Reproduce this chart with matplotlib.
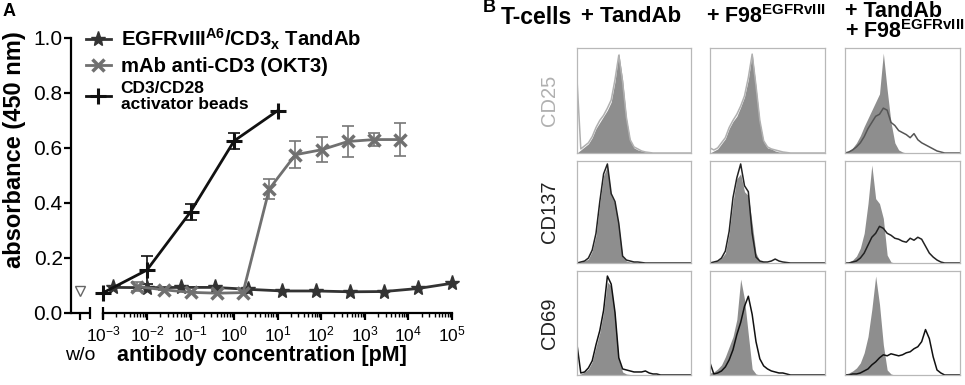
import matplotlib
matplotlib.use('Agg')
from matplotlib import pyplot as plt
from matplotlib.transforms import blended_transform_factory

plt.rcParams['font.family'] = ['Liberation Sans', 'DejaVu Sans']
plt.rcParams['mathtext.fontset'] = 'custom'
plt.rcParams['mathtext.rm'] = 'Liberation Sans'
plt.rcParams['mathtext.it'] = 'Liberation Sans:italic'
plt.rcParams['mathtext.bf'] = 'Liberation Sans:bold'

# ---- panel A data (antibody concentration in pM, absorbance at 450 nm)
tandab_conc = [0.00165, 0.0099, 0.0595, 0.357, 2.14, 12.9, 77, 463, 2778, 16667, 1e5]
tandab_abs = [0.093, 0.092, 0.093, 0.093, 0.086, 0.080, 0.080, 0.077, 0.078, 0.089, 0.108]

okt3_conc = [0.006, 0.025, 0.1, 0.4, 1.6, 6.4, 25.6, 102, 410, 1640, 6550]
okt3_abs = [0.096, 0.084, 0.075, 0.072, 0.074, 0.450, 0.575, 0.593, 0.623, 0.630, 0.630]
okt3_err = [0.015, 0.0, 0.0, 0.0, 0.0, 0.037, 0.050, 0.045, 0.055, 0.025, 0.060]

beads_conc = [1e-3, 1e-2, 1e-1, 1, 10]
beads_abs = [0.074, 0.156, 0.367, 0.625, 0.735]
beads_err = [0.0, 0.05, 0.03, 0.03, 0.0]

wo_pos = 10 ** -3.535   # position of the "w/o" (no antibody) control
wo_abs = [0.08]

xtick_vals = [1e-3, 1e-2, 1e-1, 1, 10, 100, 1e3, 1e4, 1e5]
xtick_labels = ['$10^{-3}$', '$10^{-2}$', '$10^{-1}$', '$10^{0}$', '$10^{1}$',
                '$10^{2}$', '$10^{3}$', '$10^{4}$', '$10^{5}$']

# ---- panel B data: flow cytometry histograms on a 31-bin normalised scale
bins = [k / 30 for k in range(31)]
col_titles = ['+ TandAb', r'+ F98$^{\mathbf{EGFRvIII}}$',
              '+ TandAb\n' + r'+ F98$^{\mathbf{EGFRvIII}}$']
row_labels = ['CD25', 'CD137', 'CD69']
row_colors = ['#b0b0b0', '#222222', '#222222']

cd25_ctrl = [
    [0, .03, .06, .09, .15, .24, .30, .36, .42, .50, .70, .98, .72, .34, .12, .05, .03, .02, .01, .005, 0, 0, 0, 0, 0, 0, 0, 0, 0, 0, 0],
    [0, .02, .04, .09, .14, .24, .31, .36, .45, .55, .72, .98, .65, .30, .11, .05, .04, .02, .01, .01, .005, 0, 0, 0, 0, 0, 0, 0, 0, 0, 0],
    [0, .02, .05, .10, .17, .26, .34, .42, .50, .58, .98, .62, .30, .10, .03, .01, 0, 0, 0, 0, 0, 0, 0, 0, 0, 0, 0, 0, 0, 0, 0],
]
cd25_stim = [
    [.72, .04, .07, .10, .16, .25, .32, .37, .44, .52, .72, .96, .70, .35, .13, .06, .04, .02, .01, .005, 0, 0, 0, 0, 0, 0, 0, 0, 0, 0, 0],
    [.05, .03, .05, .10, .15, .25, .32, .38, .46, .56, .74, .97, .66, .32, .12, .06, .04, .03, .02, .01, .005, 0, 0, 0, 0, 0, 0, 0, 0, 0, 0],
    [0, .01, .03, .06, .10, .16, .24, .30, .36, .38, .44, .42, .30, .27, .22, .20, .18, .15, .19, .13, .10, .08, .06, .04, .02, .01, 0, 0, 0, 0, 0],
]
cd137_ctrl = [
    [0, .01, .02, .04, .12, .28, .60, .88, .98, .68, .60, .38, .06, .02, .01, .01, .005, 0, 0, 0, 0, 0, 0, 0, 0, 0, 0, 0, 0, 0, 0],
    [0, .01, .02, .05, .10, .30, .62, .85, .90, .72, .68, .40, .10, .02, .01, 0, 0, 0, 0, 0, 0, 0, 0, 0, 0, 0, 0, 0, 0, 0, 0],
    [0, .01, .03, .07, .15, .30, .60, .99, .65, .60, .45, .08, .01, 0, 0, 0, 0, 0, 0, 0, 0, 0, 0, 0, 0, 0, 0, 0, 0, 0, 0],
]
cd137_stim = [
    [0, .01, .02, .05, .13, .30, .62, .90, 1.0, .70, .62, .40, .07, .03, .02, .01, .01, .005, 0, 0, 0, 0, 0, 0, 0, 0, 0, 0, 0, 0, 0],
    [0, .01, .02, .05, .12, .32, .66, .86, 1.0, .78, .72, .30, .06, .02, .01, .01, .02, .04, .02, .01, .005, 0, 0, 0, 0, 0, 0, 0, 0, 0, 0],
    [0, 0, .01, .02, .05, .10, .18, .26, .30, .37, .35, .30, .28, .25, .24, .22, .21, .25, .23, .26, .24, .17, .10, .06, .03, .01, 0, 0, 0, 0, 0],
]
cd69_ctrl = [
    [0, .01, .03, .06, .13, .28, .42, .62, .92, .88, .60, .15, .03, .01, .005, 0, 0, 0, 0, 0, 0, 0, 0, 0, 0, 0, 0, 0, 0, 0, 0],
    [.02, .03, .06, .10, .18, .28, .38, .55, .95, .75, .40, .06, .01, 0, 0, 0, 0, 0, 0, 0, 0, 0, 0, 0, 0, 0, 0, 0, 0, 0, 0],
    [.01, .02, .04, .07, .12, .22, .38, .65, .98, .70, .30, .05, .01, 0, 0, 0, 0, 0, 0, 0, 0, 0, 0, 0, 0, 0, 0, 0, 0, 0, 0],
]
cd69_stim = [
    [.30, .02, .03, .07, .14, .30, .44, .64, .98, .90, .62, .17, .06, .05, .04, .03, .03, .03, .04, .02, .01, .01, 0, 0, 0, 0, 0, 0, 0, 0, 0],
    [.12, .01, .02, .04, .08, .15, .25, .40, .52, .68, .78, .60, .33, .16, .09, .06, .04, .03, .02, .02, .01, 0, 0, 0, 0, 0, 0, 0, 0, 0, 0],
    [0, 0, .01, .01, .02, .04, .06, .10, .13, .17, .20, .19, .21, .20, .19, .20, .22, .23, .26, .28, .33, .45, .36, .18, .05, .02, 0, 0, 0, 0, 0],
]
ctrl_rows = [cd25_ctrl, cd137_ctrl, cd69_ctrl]
stim_rows = [cd25_stim, cd137_stim, cd69_stim]

W, H = 965, 385
fig = plt.figure(figsize=(W / 100, H / 100), dpi=100)


def px_axes(x0, y0, x1, y1):
    return fig.add_axes([x0 / W, 1 - y1 / H, (x1 - x0) / W, (y1 - y0) / H])


# ================= panel A =================
ax = px_axes(71, 37.7, 452, 313)
ax.set_xscale('log')
ax.set_xlim(10 ** -3.742, 1e5)
ax.set_ylim(0, 1.0)

l1, = ax.plot(tandab_conc, tandab_abs, color='#333333', lw=2, marker='*', ms=11,
              clip_on=False, zorder=3, label=r'EGFRvIII$^{\mathbf{A6}}$/CD3$_{\mathbf{x}}$ TandAb')
ax.errorbar(okt3_conc, okt3_abs, yerr=okt3_err, fmt='none', ecolor='#777777',
            elinewidth=1.2, capsize=4, capthick=1.2, zorder=2)
l2, = ax.plot(okt3_conc, okt3_abs, color='#707070', lw=2, marker='x', ms=9, mew=2.5,
              clip_on=False, zorder=4, label='mAb anti-CD3 (OKT3)')
ax.errorbar(beads_conc, beads_abs, yerr=beads_err, fmt='none', ecolor='#111111',
            elinewidth=1.2, capsize=4, capthick=1.2, zorder=2)
l3, = ax.plot(beads_conc, beads_abs, color='#111111', lw=2, marker='+', ms=12, mew=2.2,
              clip_on=False, zorder=5, label='CD3/CD28\nactivator beads')
ax.plot([wo_pos], wo_abs, marker='v', ms=7, mfc='none', mec='#666666', mew=1,
        ls='none', clip_on=False)

for s in ['top', 'right']:
    ax.spines[s].set_visible(False)
for s in ['left', 'bottom']:
    ax.spines[s].set_linewidth(1.6)
ax.spines['bottom'].set_bounds(1e-3, 1e5)

# broken axis piece for the w/o control
bt = blended_transform_factory(ax.transData, ax.transAxes)
ax.plot([10 ** -3.742, 10 ** -3.305], [0, 0], color='black', lw=1.6,
        transform=bt, clip_on=False, solid_capstyle='butt')
ax.plot([10 ** -3.305, 1e-3], [0, 0], ls='none', marker='|', ms=9, mew=1.6,
        color='black', transform=bt, clip_on=False)

ax.set_xticks([wo_pos] + xtick_vals)
ax.set_xticklabels([''] + xtick_labels, fontsize=12.5)
ax.set_xticks([k * 10 ** e for e in range(-3, 5) for k in range(2, 10)], minor=True)
ax.tick_params(axis='x', which='major', length=5, width=1.6, pad=3)
ax.tick_params(axis='x', which='minor', length=3, width=1.0, labelbottom=False)
ax.set_yticks([0, 0.2, 0.4, 0.6, 0.8, 1.0])
ax.set_yticklabels(['0.0', '0.2', '0.4', '0.6', '0.8', '1.0'], fontsize=15)
ax.tick_params(axis='y', length=5, width=1.6, pad=1)

ax.text(wo_pos, -0.155, 'w/o', transform=bt, ha='center', va='center', fontsize=14)
ax.set_xlabel('antibody concentration [pM]', fontsize=15.5, fontweight='bold', labelpad=1)
ax.set_ylabel('absorbance (450 nm)', fontsize=17, fontweight='bold')
ax.yaxis.set_label_coords(-0.118, 0.592)

leg = ax.legend(handles=[l1, l2, l3], loc='upper left', bbox_to_anchor=(0.04, 1.04),
                frameon=False, prop={'weight': 'bold', 'size': 14.6},
                handlelength=1.2, handletextpad=0.5, labelspacing=0.25,
                borderpad=0, borderaxespad=0)
leg.get_texts()[2].set_fontsize(12.5)
leg.get_texts()[2].set_linespacing(1.1)

fig.text(9 / W, 1 - 12 / H, 'A', fontsize=13, fontweight='bold', ha='center', va='center')

# ================= panel B =================
col_x = [(577, 691), (710, 825), (845, 960)]
row_y = [(48, 153), (161, 263), (271, 375)]
stim_colors = [['#b0b0b0', '#b0b0b0', '#555555'],
               ['#222222', '#222222', '#222222'],
               ['#111111', '#111111', '#111111']]

for r in range(3):
    for c in range(3):
        hx = px_axes(col_x[c][0], row_y[r][0], col_x[c][1], row_y[r][1])
        hx.fill_between(bins, 0, ctrl_rows[r][c], color='#8e8e8e', lw=0)
        hx.plot(bins, stim_rows[r][c], color=stim_colors[r][c], lw=1.1)
        hx.set_xlim(0, 1)
        hx.set_ylim(0, 1.03)
        hx.set_xticks([])
        hx.set_yticks([])
        for s in hx.spines.values():
            s.set_color('#b8b8b8')
            s.set_linewidth(0.9)

fig.text(489 / W, 1 - 8 / H, 'B', fontsize=13, fontweight='bold', ha='center', va='center')
fig.text(536 / W, 1 - 17 / H, 'T-cells', fontsize=16.5, fontweight='bold', ha='center', va='center')
fig.text(631 / W, 1 - 17 / H, col_titles[0], fontsize=16, fontweight='bold', ha='center', va='center')
fig.text(766 / W, 1 - 17 / H, col_titles[1], fontsize=15.5, fontweight='bold', ha='center', va='center')
fig.text(845 / W, 1 - 22 / H, col_titles[2], fontsize=15.5, fontweight='bold', ha='left', va='center',
         linespacing=0.9)

for r in range(3):
    yc = (row_y[r][0] + row_y[r][1]) / 2
    fig.text(550 / W, 1 - yc / H, row_labels[r], fontsize=14.5, color=row_colors[r],
             rotation=90, ha='center', va='center')

fig.savefig('out.png', dpi=100)
